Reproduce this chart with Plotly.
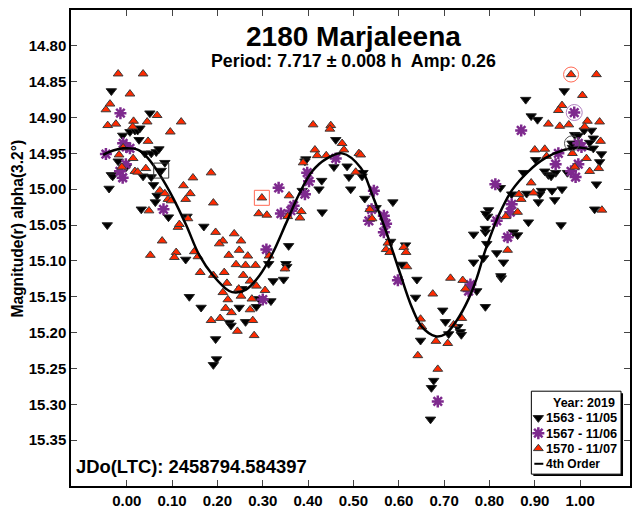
import plotly.graph_objects as go

# ---- data (phase, magnitude) ----
black_phase = [-0.034, 0.051, -0.009, 0.007, 0.018, 0.024, 0.029, 0.027, 0.040, 0.054,
               0.065, 0.071, 0.084, 0.076, -0.001, -0.034, -0.031, -0.039, 0.036, 0.054,
               0.059, 0.067, 0.063, 0.032, 0.092, 0.133, 0.170, -0.043, -0.019, 0.130,
               0.357, 0.313, 0.351, 0.353, 0.323, 0.346, 0.254, 0.138, 0.164, 0.248,
               0.286, 0.318, 0.292, 0.226, 0.230, 0.262, 0.196, 0.198, 0.191, 0.431,
               0.457, 0.486, 0.494, 0.525, 0.550, 0.424, 0.430, 0.387, 0.521, 0.461,
               0.395, 0.393, 0.490, 0.519, 0.587, 0.582, 0.615, 0.607, 0.640, 0.637,
               0.697, 0.765, 0.791, 0.796, 0.798, 0.794, 0.765, 0.787, 0.772, 0.791,
               0.816, 0.703, 0.826, 0.730, 0.736, 0.738, 0.710, 0.648, 0.677, 0.672,
               0.670, 0.965, 0.880, 0.892, 0.906, 0.988, 0.996, 1.009, 1.025, 1.029,
               1.021, 0.983, 1.029, 1.047, 1.043, 0.902, 0.922, 0.930, 0.946, 0.936,
               0.972, 0.875, 1.036, 0.915, 0.911, 0.938, 0.944, 0.882, 0.908, 0.849,
               0.824, 0.792, 0.791, 0.886, 0.958, 1.032, 0.853, 0.862, 0.831, 0.825,
               0.982, 0.960]
black_mag = [14.863, 14.894, 14.925, 14.920, 14.918, 14.918, 14.915, 14.931, 14.950, 14.950,
             14.948, 14.944, 14.963, 14.974, 14.969, 14.980, 14.982, 14.999, 14.982, 14.983,
             14.994, 15.009, 15.018, 15.028, 15.039, 15.038, 15.052, 15.050, 14.961, 15.098,
             15.079, 15.104, 15.104, 15.108, 15.128, 15.126, 15.139, 15.150, 15.165, 15.165,
             15.164, 15.156, 15.153, 15.186, 15.190, 15.185, 15.209, 15.237, 15.245, 15.032,
             14.969, 14.968, 15.000, 15.013, 15.026, 15.000, 14.988, 15.002, 14.977, 14.931,
             14.958, 14.961, 14.983, 14.982, 15.018, 15.073, 15.078, 15.105, 15.126, 15.151,
             15.169, 15.063, 15.060, 15.038, 15.029, 15.076, 15.102, 15.096, 15.142, 15.164,
             15.089, 15.185, 15.124, 15.192, 15.199, 15.203, 15.202, 15.211, 15.267, 15.277,
             15.321, 14.863, 14.875, 14.898, 14.903, 14.924, 14.925, 14.918, 14.918, 14.929,
             14.935, 14.942, 14.943, 14.951, 14.962, 14.959, 14.975, 14.980, 14.977, 14.982,
             14.977, 14.977, 14.993, 15.002, 15.007, 15.002, 15.015, 15.006, 15.018, 15.007,
             14.998, 15.034, 15.055, 15.046, 15.050, 15.028, 15.060, 15.064, 15.102, 15.121,
             14.936, 15.000]

purple_phase = [-0.014, -0.046, -0.008, -0.001, 0.007, -0.002, -0.015, -0.009, 0.081, 0.335,
                0.398, 0.402, 0.368, 0.362, 0.393, 0.340, 0.308, 0.300, 0.461, 0.545,
                0.540, 0.534, 0.567, 0.572, 0.567, 0.598, 0.758, 0.754, 0.813, 0.686,
                0.870, 0.987, 0.996, 1.003, 0.952, 0.946, 0.996, 0.980, 0.990, 0.849,
                0.846, 0.816, 0.840]
purple_mag = [14.894, 14.951, 14.936, 14.941, 14.943, 14.965, 14.975, 14.984, 15.028, 14.998,
              14.977, 14.989, 15.023, 15.030, 15.007, 15.034, 15.084, 15.154, 14.957, 15.002,
              15.028, 15.044, 15.037, 15.048, 15.060, 15.127, 15.133, 15.142, 14.993, 15.296,
              14.918, 14.893, 14.936, 14.941, 14.950, 14.965, 14.965, 14.975, 14.983, 15.021,
              15.032, 15.044, 15.067]

red_phase = [-0.019, 0.036, 0.007, -0.046, -0.037, -0.042, -0.024, 0.015, 0.045, 0.067,
             0.120, 0.096, 0.013, 0.047, -0.008, -0.017, 0.014, -0.011, 0.018, 0.024,
             0.042, 0.073, 0.084, 0.091, 0.098, 0.125, 0.140, 0.130, 0.146, 0.186,
             0.191, 0.049, 0.135, 0.113, 0.078, 0.196, 0.212, 0.204, 0.237, 0.252,
             0.248, 0.267, 0.052, 0.109, 0.149, 0.298, 0.291, 0.309, 0.358, 0.355,
             0.382, 0.385, 0.105, 0.157, 0.225, 0.262, 0.241, 0.284, 0.314, 0.349,
             0.162, 0.191, 0.215, 0.221, 0.257, 0.272, 0.286, 0.305, 0.247, 0.212,
             0.223, 0.252, 0.276, 0.218, 0.231, 0.272, 0.186, 0.206, 0.278, 0.244,
             0.281, 0.116, 0.389, 0.505, 0.536, 0.541, 0.411, 0.450, 0.448, 0.475,
             0.479, 0.415, 0.420, 0.440, 0.512, 0.516, 0.576, 0.572, 0.580, 0.611,
             0.616, 0.618, 0.675, 0.714, 0.741, 0.747, 0.648, 0.651, 0.739, 0.721,
             0.682, 0.708, 0.642, 0.686, 0.980, 1.036, 1.005, 0.960, 0.952, 0.930,
             0.955, 0.975, 1.016, 1.010, 1.043, 1.045, 0.900, 0.922, 0.926, 0.983,
             1.014, 0.988, 1.021, 1.041, 0.892, 0.870, 0.865, 0.897, 0.862, 0.836,
             1.048, 0.840]
red_mag = [14.839, 14.839, 14.867, 14.889, 14.881, 14.911, 14.909, 14.905, 14.906, 14.897,
           14.906, 14.920, 14.913, 14.933, 14.942, 14.952, 14.957, 14.969, 14.975, 14.976,
           14.971, 15.002, 15.006, 15.014, 15.016, 14.995, 15.006, 15.014, 14.984, 14.977,
           15.019, 15.030, 15.041, 15.053, 15.072, 15.060, 15.072, 15.076, 15.062, 15.072,
           15.085, 15.093, 15.092, 15.088, 15.087, 15.012, 15.034, 15.036, 15.009, 15.038,
           15.040, 15.031, 15.095, 15.094, 15.092, 15.106, 15.105, 15.106, 15.093, 15.111,
           15.116, 15.120, 15.116, 15.131, 15.120, 15.128, 15.135, 15.141, 15.139, 15.144,
           15.154, 15.149, 15.153, 15.166, 15.172, 15.168, 15.183, 15.180, 15.183, 15.198,
           15.204, 15.049, 14.963, 14.976, 15.028, 15.041, 14.910, 14.911, 14.916, 14.936,
           14.945, 14.945, 14.953, 14.953, 14.950, 14.952, 15.075, 15.084, 15.088, 15.081,
           15.088, 15.108, 15.146, 15.124, 15.127, 15.139, 15.181, 15.192, 15.180, 15.189,
           15.212, 15.215, 15.232, 15.251, 14.840, 14.840, 14.869, 14.883, 14.890, 14.909,
           14.912, 14.910, 14.905, 14.913, 14.906, 14.933, 14.945, 14.944, 14.954, 14.950,
           14.957, 14.969, 14.975, 14.971, 14.991, 15.014, 15.007, 15.005, 15.032, 15.038,
           15.029, 15.085]

fit_phase = [-0.052, -0.030, -0.008, 0.025, 0.047, 0.073, 0.102, 0.131, 0.160, 0.190,
             0.226, 0.241, 0.263, 0.292, 0.322, 0.351, 0.380, 0.409, 0.439, 0.475,
             0.516, 0.541, 0.571, 0.600, 0.629, 0.651, 0.681, 0.703, 0.728, 0.754,
             0.772, 0.791, 0.820, 0.849, 0.886, 0.922, 0.966, 1.003, 1.025]
fit_mag = [14.952, 14.946, 14.943, 14.945, 14.957, 14.980, 15.012, 15.050, 15.092, 15.120,
           15.142, 15.144, 15.140, 15.121, 15.089, 15.048, 15.007, 14.975, 14.958, 14.950,
           14.970, 15.007, 15.057, 15.112, 15.165, 15.192, 15.205, 15.202, 15.183, 15.153,
           15.124, 15.085, 15.037, 15.002, 14.975, 14.957, 14.945, 14.942, 14.945]

x_ticks = [0.0, 0.1, 0.2, 0.3, 0.4, 0.5, 0.6, 0.7, 0.8, 0.9, 1.0]
y_ticks = [14.80, 14.85, 14.90, 14.95, 15.00, 15.05, 15.10, 15.15, 15.20, 15.25, 15.30, 15.35]

legend_title = "Year: 2019"
series_names = ["1563 - 11/05", "1567 - 11/06", "1570 - 11/07", "4th Order"]

FONT = "Liberation Sans, Arial, sans-serif"
RED = "#ff2a00"
PURPLE = "#7e2a8e"
BLACK_MK = dict(symbol="triangle-down", size=9, color="black", line=dict(color="#222222", width=1))
PURPLE_MK = dict(symbol="asterisk-open", size=10, color=PURPLE, line=dict(color=PURPLE, width=2.5))
RED_MK = dict(symbol="triangle-up", size=8.5, color=RED, line=dict(color="#3a3a3a", width=1))

fig = go.Figure()
fig.add_trace(go.Scatter(x=black_phase, y=black_mag, mode="markers",
                         name=series_names[0], marker=BLACK_MK, showlegend=False))
fig.add_trace(go.Scatter(x=purple_phase, y=purple_mag, mode="markers",
                         name=series_names[1], marker=PURPLE_MK, showlegend=False))
fig.add_trace(go.Scatter(x=red_phase, y=red_mag, mode="markers",
                         name=series_names[2], marker=RED_MK, showlegend=False))
fig.add_trace(go.Scatter(x=fit_phase, y=fit_mag, mode="lines", name=series_names[3],
                         line=dict(color="black", width=2.5, shape="spline"), showlegend=False))

# first-point highlight markers around selected data points
fig.add_trace(go.Scatter(x=[red_phase[114]], y=[red_mag[114]], mode="markers", showlegend=False,
                         marker=dict(symbol="circle-open", size=15, color="#ff6a55", line=dict(width=1))))
fig.add_trace(go.Scatter(x=[purple_phase[31]], y=[purple_mag[31]], mode="markers", showlegend=False,
                         marker=dict(symbol="circle-open", size=16, color="#b07fc0", line=dict(width=1))))
fig.add_trace(go.Scatter(x=[black_phase[130]], y=[black_mag[130]], mode="markers", showlegend=False,
                         marker=dict(symbol="circle-open", size=15, color="#555555", line=dict(width=1))))
fig.add_trace(go.Scatter(x=[red_phase[45]], y=[red_mag[45]], mode="markers", showlegend=False,
                         marker=dict(symbol="square-open", size=15, color="#ff6a55", line=dict(width=1))))
fig.add_trace(go.Scatter(x=[black_phase[13]], y=[black_mag[13]], mode="markers", showlegend=False,
                         marker=dict(symbol="square-open", size=15, color="#333333", line=dict(width=1))))

# ---- custom legend drawn on an overlay axis measured in screen pixels ----
LX0, LX1, LY0, LY1 = 533, 623, 396, 480
title_y = 407.5
row_y = [423, 438.5, 454, 469.5]
sym_x, txt_x = 540, 546
fig.add_trace(go.Scatter(x=[sym_x], y=[row_y[0]], xaxis="x2", yaxis="y2", mode="markers",
                         marker=BLACK_MK, showlegend=False, hoverinfo="skip"))
fig.add_trace(go.Scatter(x=[sym_x], y=[row_y[1]], xaxis="x2", yaxis="y2", mode="markers",
                         marker=PURPLE_MK, showlegend=False, hoverinfo="skip"))
fig.add_trace(go.Scatter(x=[sym_x], y=[row_y[2]], xaxis="x2", yaxis="y2", mode="markers",
                         marker=RED_MK, showlegend=False, hoverinfo="skip"))
fig.add_trace(go.Scatter(x=[sym_x - 4, sym_x + 5], y=[row_y[3], row_y[3]], xaxis="x2", yaxis="y2",
                         mode="lines", line=dict(color="black", width=2), showlegend=False,
                         hoverinfo="skip"))
fig.add_shape(type="rect", xref="x2", yref="y2", x0=LX0 + 2, x1=LX1 + 2, y0=LY0 + 2, y1=LY1 + 2,
              fillcolor="black", line=dict(width=0), layer="below")
fig.add_shape(type="rect", xref="x2", yref="y2", x0=LX0, x1=LX1, y0=LY0, y1=LY1,
              fillcolor="white", line=dict(color="black", width=1), layer="below")
fig.add_annotation(text=legend_title, xref="x2", yref="y2", x=585.5, y=title_y,
                   xanchor="center", yanchor="middle", showarrow=False,
                   font=dict(family=FONT, size=12.5, color="black", weight="bold"))
for name, ry in zip(series_names, row_y):
    fig.add_annotation(text=name, xref="x2", yref="y2", x=txt_x, y=ry,
                       xanchor="left", yanchor="middle", showarrow=False,
                       font=dict(family=FONT, size=12.8 if name != "4th Order" else 12,
                                 color="black", weight="bold"))

axis_common = dict(
    showgrid=False, zeroline=False, showline=True, linecolor="black", linewidth=1.5,
    mirror="ticks", ticks="inside", ticklen=6, tickwidth=1, tickcolor="#444444",
    tickfont=dict(family=FONT, size=15, color="black", weight="bold"),
)

fig.update_layout(
    width=633, height=510,
    margin=dict(l=71, r=1, t=10, b=18),
    paper_bgcolor="white", plot_bgcolor="white",
    font=dict(family=FONT, color="black"),
    xaxis=dict(range=[-0.123, 1.11], tickvals=x_ticks,
               ticktext=[f"{v:.2f}" for v in x_ticks], **axis_common),
    yaxis=dict(range=[15.414, 14.750], tickvals=y_ticks,
               ticktext=[f"{v:.2f}" for v in y_ticks], **axis_common),
    xaxis2=dict(range=[71, 632], overlaying="x", anchor="y2", visible=False,
                showgrid=False, zeroline=False),
    yaxis2=dict(range=[492, 10], overlaying="y", anchor="x2", visible=False,
                showgrid=False, zeroline=False),
    showlegend=False,
)

fig.add_annotation(text="2180 Marjaleena", xref="paper", yref="paper",
                   x=0.505, y=0.944, xanchor="center", yanchor="middle", showarrow=False,
                   font=dict(family=FONT, size=28, color="black", weight="bold"))
fig.add_annotation(text="Period: 7.717 ± 0.008 h  Amp: 0.26", xref="paper", yref="paper",
                   x=0.505, y=0.892, xanchor="center", yanchor="middle", showarrow=False,
                   font=dict(family=FONT, size=17.8, color="black", weight="bold"))
fig.add_annotation(text="JDo(LTC): 2458794.584397", xref="paper", yref="paper",
                   x=0.005, y=0.041, xanchor="left", yanchor="middle", showarrow=False,
                   font=dict(family=FONT, size=18.4, color="black", weight="bold"))
fig.add_annotation(text="Magnitude(r) alpha(3.2°)", xref="paper", yref="paper",
                   x=-0.096, y=0.5415, xanchor="center", yanchor="middle", showarrow=False,
                   textangle=-90,
                   font=dict(family=FONT, size=15.6, color="black", weight="bold"))

fig.write_html("out.html")
